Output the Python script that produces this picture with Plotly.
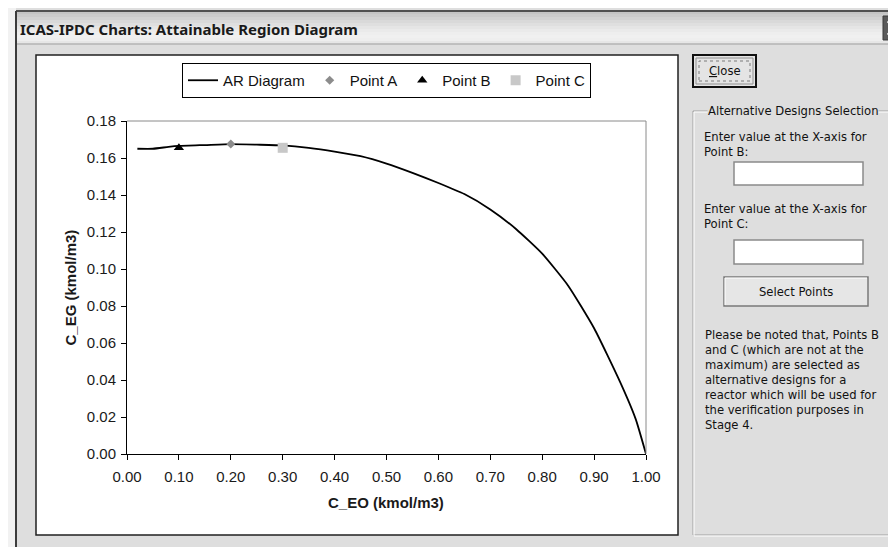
import plotly.graph_objects as go

# ---------------- data ----------------
c_eo = [0.02, 0.05, 0.08, 0.10, 0.15, 0.20, 0.25, 0.30, 0.35, 0.40, 0.45, 0.50,
        0.55, 0.60, 0.65, 0.70, 0.75, 0.80, 0.85, 0.90, 0.95, 0.98, 1.00]
c_eg = [0.1650, 0.1650, 0.1660, 0.1665, 0.1670, 0.1675, 0.1672, 0.1668, 0.1655,
        0.1635, 0.1610, 0.1570, 0.1520, 0.1465, 0.1405, 0.1322, 0.1215, 0.1083,
        0.0910, 0.0680, 0.0390, 0.0190, 0.0000]
point_a = ([0.20], [0.1676])
point_b = ([0.10], [0.1656])
point_c = ([0.30], [0.1655])
x_ticks = [0.0, 0.1, 0.2, 0.3, 0.4, 0.5, 0.6, 0.7, 0.8, 0.9, 1.0]
y_ticks = [0.00, 0.02, 0.04, 0.06, 0.08, 0.10, 0.12, 0.14, 0.16, 0.18]

W, H = 896, 547
L, R, T, B = 119, 638, 113, 446


def PX(px):
    return (px - L) / (R - L)


def PY(py):
    return (B - py) / (B - T)


fig = go.Figure()
fig.add_trace(go.Scatter(x=c_eo, y=c_eg, mode="lines", name="AR Diagram",
                         line=dict(color="black", width=1.8, shape="spline", smoothing=0.5)))
fig.add_trace(go.Scatter(x=point_a[0], y=point_a[1], mode="markers", name="Point A",
                         marker=dict(symbol="diamond", color="#8c8c8c", size=7)))
fig.add_trace(go.Scatter(x=point_b[0], y=point_b[1], mode="markers", name="Point B",
                         marker=dict(symbol="triangle-up", color="black", size=9)))
fig.add_trace(go.Scatter(x=point_c[0], y=point_c[1], mode="markers", name="Point C",
                         marker=dict(symbol="square", color="#c8c8c8", size=10)))

shapes = []
ann = []
UI = "DejaVu Sans"
UIS = 11.6


def rect(x0, y0, x1, y1, fill=None, line=None, lw=1, layer="below", dash=None):
    d = dict(type="rect", xref="paper", yref="paper",
             x0=PX(x0), x1=PX(x1), y0=PY(y1), y1=PY(y0), layer=layer,
             line=dict(width=lw if line else 0, color=line or "rgba(0,0,0,0)"))
    if dash:
        d["line"]["dash"] = dash
    if fill:
        d["fillcolor"] = fill
    shapes.append(d)


def hline(x0, x1, y, color, lw=1, layer="below"):
    shapes.append(dict(type="line", xref="paper", yref="paper", x0=PX(x0), x1=PX(x1),
                       y0=PY(y), y1=PY(y), line=dict(color=color, width=lw), layer=layer))


def vline(x, y0, y1, color, lw=1, layer="below"):
    shapes.append(dict(type="line", xref="paper", yref="paper", x0=PX(x), x1=PX(x),
                       y0=PY(y0), y1=PY(y1), line=dict(color=color, width=lw), layer=layer))


def text(x, y, s, size=UIS, anchor="left", color="#111", family=UI, angle=0, bg=None):
    a = dict(xref="paper", yref="paper", x=PX(x), y=PY(y), text=s, showarrow=False,
             xanchor=anchor, yanchor="middle", textangle=angle, align="left",
             borderpad=0, font=dict(size=size, color=color, family=family))
    if bg:
        a["bgcolor"] = bg
    ann.append(a)


# outside strip and window frame
rect(0, 0, 8, H, fill="#f2f2f2")
grad = ["#c4c4c4", "#cbcbcb", "#d2d2d2", "#d9d9d9", "#dfdfdf", "#e5e5e5", "#eaeaea",
        "#eeeeee", "#f0f0f0", "#eeeeee", "#e6e6e6"]
top, bot = 3, 36
step = (bot - top) / len(grad)
for i, g in enumerate(grad):
    rect(8, top + i * step, W, top + (i + 1) * step + 0.5, fill=g)
hline(8, W, 3, "#505050", 2)
hline(8, W, 36, "#9a9a9a", 1)
vline(8, 3, H, "#3c3c3c", 2)
text(11, 21, "<b>ICAS-IPDC Charts: Attainable Region Diagram</b>", size=15,
     color="#1a1a1a", family="Noto Sans")
# close X
rect(875, 8, W + 5, 32, fill="#5a5a5a", line="#3a3a3a")
shapes.append(dict(type="line", xref="paper", yref="paper", x0=PX(880), x1=PX(892),
                   y0=PY(13), y1=PY(27), line=dict(color="white", width=3), layer="below"))
shapes.append(dict(type="line", xref="paper", yref="paper", x0=PX(880), x1=PX(892),
                   y0=PY(27), y1=PY(13), line=dict(color="white", width=3), layer="below"))

# chart panel
rect(28, 47, 670, 527, fill="white", line="#202020", lw=1.5)
# plot area top / right border (gray)
hline(L, R, T, "#8a8a8a", 1, layer="above")
vline(R, T, B, "#8a8a8a", 1, layer="above")

# close button
rect(685, 47, 748, 79, fill="#e4e4e4", line="#101010", lw=2)
rect(688, 50, 745, 76, line="#909090", lw=1)
rect(691, 53, 742, 73, line="#7a7a7a", lw=1, dash="dot")
text(716.5, 63, "<u>C</u>lose", anchor="center")

# group box
rect(685, 103, 884, 527, line="#a0a0a0", lw=1)
rect(686, 104, 885, 528, line="#ffffff", lw=1)
text(785, 103, "Alternative Designs Selection", anchor="center", bg="#dedede")
text(695, 136, "Enter value at the X-axis for<br>Point B:")
rect(726, 154, 855, 177, fill="white", line="#8a8a8a", lw=1.5)
text(695, 208.5, "Enter value at the X-axis for<br>Point C:")
rect(726, 232, 855, 256, fill="white", line="#8a8a8a", lw=1.5)
rect(716, 269, 860, 298, fill="#e6e6e6", line="#7a7a7a", lw=1.5)
hline(717, 859, 270, "#ffffff", 1)
vline(717, 270, 297, "#ffffff", 1)
text(788, 283.5, "Select Points", anchor="center")
para = ["Please be noted that, Points B", "and C (which are not at the",
        "maximum) are selected as", "alternative designs for a",
        "reactor which will be used for", "the verification purposes in", "Stage 4."]
text(696, 372, "<br>".join(para))

# axis titles
text(62, 279.5, "<b>C_EG (kmol/m3)</b>", size=15, anchor="center", family="Liberation Sans",
     angle=-90, color="#1a1a1a")
text(378, 494, "<b>C_EO (kmol/m3)</b>", size=15, anchor="center", family="Liberation Sans",
     color="#1a1a1a")

axis_common = dict(showgrid=False, zeroline=False, showline=True, linecolor="black",
                   linewidth=1, ticks="outside", ticklen=5, tickcolor="black",
                   tickfont=dict(family="Liberation Sans", size=15, color="#1a1a1a"),
                   tickformat=".2f")

fig.update_layout(
    width=W, height=H,
    margin=dict(l=L, r=W - R, t=T, b=H - B, autoexpand=False),
    paper_bgcolor="#dedede", plot_bgcolor="white",
    xaxis=dict(range=[0, 1], tickvals=x_ticks, ticklabelstandoff=4, **axis_common),
    yaxis=dict(range=[0, 0.18], tickvals=y_ticks, ticklabelstandoff=2, **axis_common),
    showlegend=True,
    legend=dict(orientation="h", x=0.5, xanchor="center", y=PY(55), yanchor="top",
                bgcolor="white", bordercolor="black", borderwidth=1,
                font=dict(family="Liberation Sans", size=15, color="#111"),
                tracegroupgap=0),
    shapes=shapes, annotations=ann,
)

fig.write_html("out.html")
